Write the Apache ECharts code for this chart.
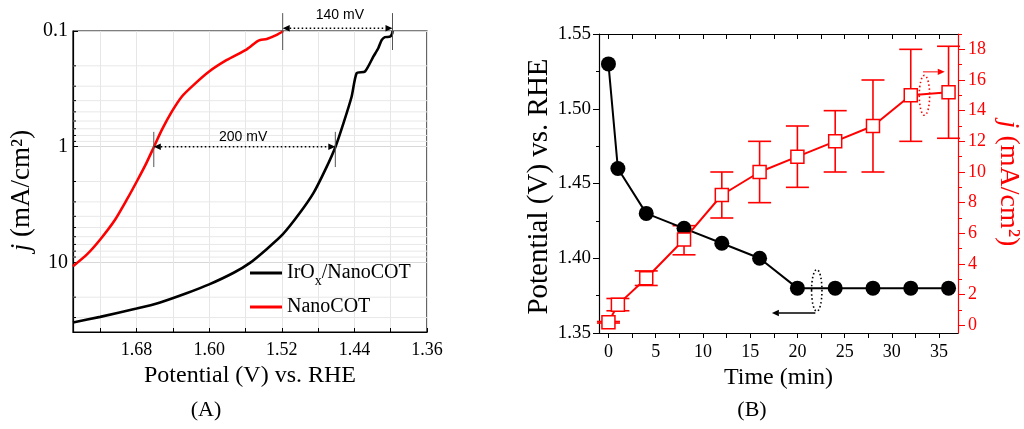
<!DOCTYPE html>
<html><head><meta charset="utf-8">
<script src="https://cdn.jsdelivr.net/npm/echarts@6/dist/echarts.min.js"></script>
<style>html,body{margin:0;padding:0;background:#fff}#c{width:1024px;height:429px}</style>
</head><body><div id="c"></div>
<script>
// ---------- Panel (A): polarization curves ----------
const irV = [1.750,1.720,1.680,1.654,1.625,1.600,1.573,1.555,1.537,1.519,1.500,1.485,1.472,1.461,1.452,1.443,1.4375,1.4283,1.419,1.4137,1.410,1.4064,1.4008,1.3983,1.398];
const irJ = [33.1,29.6,25.1,22.2,18.5,15.5,12.3,10.1,7.73,5.74,3.73,2.51,1.58,1.01,0.625,0.368,0.231,0.224,0.166,0.141,0.120,0.113,0.112,0.105,0.100];
const ncV = [1.750,1.7346,1.720,1.7035,1.6906,1.6796,1.670,1.661,1.652,1.641,1.630,1.617,1.600,1.5805,1.5585,1.5475,1.5437,1.5365,1.5255,1.5183];
const ncJ = [10.8,8.53,6.34,4.26,2.86,1.99,1.43,1.01,0.713,0.496,0.368,0.292,0.224,0.178,0.144,0.1236,0.1197,0.117,0.108,0.100];
const xLabelsA = [1.68,1.60,1.52,1.44,1.36];
const xTicksA = [1.72,1.68,1.64,1.60,1.56,1.52,1.48,1.44,1.40,1.36];
const yLabelsA = [0.1,1,10];
const yMinorA = [0.2,0.3,0.4,0.5,0.6,0.7,0.8,0.9,2,3,4,5,6,7,8,9,20,30];

// ---------- Panel (B): stability ----------
const timeMin = [0,1,4,8,12,16,20,24,28,32,36];
const potential = [1.53,1.46,1.43,1.42,1.41,1.40,1.38,1.38,1.38,1.38,1.38];
const jB = [0.2,1.35,3.07,5.6,8.5,10.0,11.0,12.0,13.0,15.0,15.2];
const jLow = [0.15,0.95,2.6,4.6,7.0,8.0,9.0,10.0,10.0,12.0,12.2];
const jHigh = [0.25,1.75,3.55,6.5,10.0,12.0,13.0,14.0,16.0,18.0,18.2];
const tLabels = [0,5,10,15,20,25,30,35];
const tTicks = [0,2.5,5,7.5,10,12.5,15,17.5,20,22.5,25,27.5,30,32.5,35];
const jLabels = [0,2,4,6,8,10,12,14,16,18];
const jMinor = [1,3,5,7,9,11,13,15,17,19];

const SERIF = 'Liberation Serif';
const RED = '#ff0000';

function arrow(api, p1, p2, color, lw, dash, heads) {
  const a = api.coord(p1), b = api.coord(p2);
  const dx = b[0]-a[0], dy = b[1]-a[1], len = Math.hypot(dx,dy) || 1;
  const ux = dx/len, uy = dy/len, L = 7, H = 3.2;
  const out = [];
  const s = heads.start ? L : 0, e = heads.end ? L : 0;
  out.push({type:'line', shape:{x1:a[0]+ux*s, y1:a[1]+uy*s, x2:b[0]-ux*e, y2:b[1]-uy*e},
    style:{stroke:color, lineWidth:lw, lineDash:dash}});
  const head = (t, dir) => ({type:'polygon', shape:{points:[
    [t[0],t[1]], [t[0]+dir*ux*L - uy*H, t[1]+dir*uy*L + ux*H], [t[0]+dir*ux*L + uy*H, t[1]+dir*uy*L - ux*H]]},
    style:{fill:color}});
  if (heads.start) out.push(head(a, 1));
  if (heads.end) out.push(head(b, -1));
  return out;
}
function vline(api, x, y1, y2, color) {
  const a = api.coord([x,y1]), b = api.coord([x,y2]);
  return {type:'line', shape:{x1:a[0],y1:a[1],x2:b[0],y2:b[1]}, style:{stroke:color, lineWidth:1}};
}
function ellipse(api, x1, x2, y1, y2, color) {
  const a = api.coord([x1,y1]), b = api.coord([x2,y2]);
  return {type:'ellipse', shape:{cx:(a[0]+b[0])/2, cy:(a[1]+b[1])/2, rx:Math.abs(b[0]-a[0])/2, ry:Math.abs(b[1]-a[1])/2},
    style:{stroke:color, fill:'none', lineWidth:1.6, lineDash:[1.5,2.5]}};
}

const chart = echarts.init(document.getElementById('c'), null, {renderer:'canvas'});
chart.setOption({
  animation:false,
  backgroundColor:'#fff',
  grid:[
    {left:73, top:31, width:354, height:301, show:true, borderColor:'#000', borderWidth:1.2, backgroundColor:'transparent'},
    {left:599, top:34, width:359, height:299}
  ],
  legend:{
    data:['IrOx/NanoCOT','NanoCOT'], orient:'vertical', left:250, top:258, padding:0,
    itemWidth:32, itemHeight:3, icon:'rect', itemGap:8,
    formatter: n => n === 'IrOx/NanoCOT' ? 'IrO{sub|x}/NanoCOT' : n,
    textStyle:{fontFamily:SERIF, fontSize:20, color:'#000', lineHeight:22,
      rich:{sub:{fontFamily:SERIF, fontSize:14, color:'#000', lineHeight:30, verticalAlign:'bottom'}}}
  },
  xAxis:[
    {gridIndex:0, type:'value', min:1.36, max:1.75, inverse:true, position:'bottom',
     axisLine:{onZero:false, lineStyle:{color:'#000', width:1.2}},
     axisTick:{inside:true, length:4, customValues:xTicksA, lineStyle:{color:'#000'}},
     axisLabel:{customValues:xLabelsA, formatter:v=>(+v).toFixed(2), margin:9, fontFamily:SERIF, fontSize:18, color:'#000'},
     splitLine:{show:true, lineStyle:{color:'#e6e6e6', width:1}},
     name:'Potential (V) vs. RHE', nameLocation:'middle', nameGap:27,
     nameTextStyle:{fontFamily:SERIF, fontSize:24, color:'#000'}},
    {gridIndex:1, type:'value', min:-1, max:37, position:'bottom',
     axisLine:{onZero:false, lineStyle:{color:'#000', width:1.2}},
     axisTick:{inside:false, length:5, customValues:tTicks, lineStyle:{color:'#000'}},
     axisLabel:{customValues:tLabels, margin:10, fontFamily:SERIF, fontSize:18, color:'#000'},
     splitLine:{show:false},
     name:'Time (min)', nameLocation:'middle', nameGap:28,
     nameTextStyle:{fontFamily:SERIF, fontSize:24, color:'#000'}},
    {gridIndex:1, type:'value', min:-1, max:37, position:'top',
     axisLine:{onZero:false, lineStyle:{color:'#000', width:1.2}},
     axisTick:{inside:true, length:5, customValues:tTicks, lineStyle:{color:'#000'}},
     axisLabel:{show:false}, splitLine:{show:false}}
  ],
  yAxis:[
    {gridIndex:0, type:'log', logBase:10, min:0.1, max:40, inverse:true, position:'left',
     axisLine:{onZero:false, lineStyle:{color:'#000', width:1.2}},
     axisTick:{inside:true, length:5, lineStyle:{color:'#000'}},
     axisLabel:{margin:5, fontFamily:SERIF, fontSize:20, color:'#000',
       formatter:v=>yLabelsA.some(t=>Math.abs(t-v)/t<1e-6) ? String(+(+v).toPrecision(3)) : ''},
     splitLine:{show:true, lineStyle:{color:'#d8d8d8', width:1}},
     name:'{i|j} (mA/cm²)', nameLocation:'middle', nameGap:38, nameRotate:90,
     nameTextStyle:{fontFamily:SERIF, fontSize:27, color:'#000', padding:[0,18,0,0],
       rich:{i:{fontFamily:SERIF, fontSize:27, fontStyle:'italic', color:'#000'}}}},
    {gridIndex:1, type:'value', min:1.35, max:1.55, interval:0.05, position:'left',
     axisLine:{onZero:false, lineStyle:{color:'#000', width:1.2}},
     axisTick:{inside:false, length:6, lineStyle:{color:'#000'}},
     minorTick:{show:true, splitNumber:2, length:3, lineStyle:{color:'#000'}},
     axisLabel:{formatter:v=>(+v).toFixed(2), margin:8, fontFamily:SERIF, fontSize:19, color:'#000'},
     splitLine:{show:false},
     name:'Potential (V) vs. RHE', nameLocation:'middle', nameGap:44, nameRotate:90,
     nameTextStyle:{fontFamily:SERIF, fontSize:29, color:'#000', padding:[0,6,0,0]}},
    {gridIndex:1, type:'value', min:-0.5, max:19, position:'right',
     axisLine:{onZero:false, lineStyle:{color:RED, width:1.2}},
     axisTick:{inside:false, length:7, customValues:jLabels, lineStyle:{color:RED}},
     axisLabel:{customValues:jLabels, margin:10, fontFamily:SERIF, fontSize:18, color:RED},
     splitLine:{show:false},
     name:'{i|j} (mA/cm²)', nameLocation:'middle', nameGap:36, nameRotate:-90,
     nameTextStyle:{fontFamily:SERIF, fontSize:28, color:RED,
       rich:{i:{fontFamily:SERIF, fontSize:28, fontStyle:'italic', color:RED}}}},
    {gridIndex:1, type:'value', min:-0.5, max:19, position:'right',
     axisLine:{show:false, onZero:false},
     axisTick:{inside:false, length:4, customValues:jMinor, lineStyle:{color:RED}},
     axisLabel:{show:false}, splitLine:{show:false}}
  ],
  graphic:[
    {type:'text', x:206, y:410, style:{text:'(A)', align:'center', verticalAlign:'middle', fontFamily:SERIF, fontSize:22, fill:'#000'}},
    {type:'text', x:752, y:410, style:{text:'(B)', align:'center', verticalAlign:'middle', fontFamily:SERIF, fontSize:22, fill:'#000'}}
  ],
  series:[
    // minor log grid lines + ticks for panel A
    {type:'custom', xAxisIndex:0, yAxisIndex:0, silent:true, clip:false, data:[[1.5,1]],
     renderItem:(p, api) => {
       const ch = [];
       yMinorA.forEach(v => {
         const a = api.coord([1.75, v]), b = api.coord([1.36, v]);
         ch.push({type:'line', shape:{x1:a[0], y1:a[1], x2:b[0], y2:b[1]}, style:{stroke:'#e8e8e8', lineWidth:1}});
         ch.push({type:'line', shape:{x1:a[0], y1:a[1], x2:a[0]+3, y2:a[1]}, style:{stroke:'#000', lineWidth:1}});
       });
       return {type:'group', children:ch};
     }},
    {name:'IrOx/NanoCOT', type:'line', xAxisIndex:0, yAxisIndex:0, showSymbol:false, symbol:'none', smooth:0.2,
     data:irV.map((v,i)=>[v, irJ[i]]), lineStyle:{color:'#000', width:2.6}, itemStyle:{color:'#000'}, z:3},
    {name:'NanoCOT', type:'line', xAxisIndex:0, yAxisIndex:0, showSymbol:false, symbol:'none', smooth:0.2,
     data:ncV.map((v,i)=>[v, ncJ[i]]), lineStyle:{color:RED, width:2.6}, itemStyle:{color:RED}, z:3},
    // annotations panel A
    {type:'custom', xAxisIndex:0, yAxisIndex:0, silent:true, clip:false, data:[[1.5,1]], z:4,
     renderItem:(p, api) => {
       const ch = [];
       ch.push(vline(api, 1.661, 0.745, 1.5, '#555'));
       ch.push(vline(api, 1.461, 0.745, 1.5, '#555'));
       ch.push(...arrow(api, [1.661, 1], [1.461, 1], '#000', 1.6, [1.5,2.5], {start:true, end:true}));
       const t1 = api.coord([1.5626, 0.83]);
       ch.push({type:'text', x:t1[0], y:t1[1], style:{text:'200 mV', align:'center', verticalAlign:'middle', fontFamily:'Liberation Sans', fontSize:14, fill:'#000'}});
       ch.push(vline(api, 1.519, 0.070, 0.146, '#555'));
       ch.push(vline(api, 1.398, 0.070, 0.146, '#555'));
       ch.push(...arrow(api, [1.519, 0.0948], [1.398, 0.0948], '#000', 1.6, [1.5,2.5], {start:true, end:true}));
       const t2 = api.coord([1.456, 0.0727]);
       ch.push({type:'text', x:t2[0], y:t2[1], style:{text:'140 mV', align:'center', verticalAlign:'middle', fontFamily:'Liberation Sans', fontSize:14, fill:'#000'}});
       return {type:'group', children:ch};
     }},
    // panel B
    {name:'Potential', type:'line', xAxisIndex:1, yAxisIndex:1, symbol:'circle', symbolSize:15,
     data:timeMin.map((t,i)=>[t, potential[i]]), lineStyle:{color:'#000', width:2}, itemStyle:{color:'#000'}},
    {type:'custom', xAxisIndex:1, yAxisIndex:2, silent:true, clip:false,
     encode:{x:0, y:[1,2]},
     data:timeMin.map((t,i)=>[t, jLow[i], jHigh[i]]),
     renderItem:(p, api) => {
       const lo = api.coord([api.value(0), api.value(1)]), hi = api.coord([api.value(0), api.value(2)]);
       const w = 11.5, st = {stroke:RED, lineWidth:1.6};
       return {type:'group', children:[
         {type:'line', shape:{x1:lo[0], y1:lo[1], x2:hi[0], y2:hi[1]}, style:st},
         {type:'line', shape:{x1:lo[0]-w, y1:lo[1], x2:lo[0]+w, y2:lo[1]}, style:st},
         {type:'line', shape:{x1:hi[0]-w, y1:hi[1], x2:hi[0]+w, y2:hi[1]}, style:st}
       ]};
     }},
    {name:'j', type:'line', xAxisIndex:1, yAxisIndex:2, symbol:'rect', symbolSize:13,
     data:timeMin.map((t,i)=>[t, jB[i]]), lineStyle:{color:RED, width:2},
     itemStyle:{color:'#fff', borderColor:RED, borderWidth:1.5}},
    {type:'custom', xAxisIndex:1, yAxisIndex:1, silent:true, clip:false, data:[[20,1.4]],
     renderItem:(p, api) => ({type:'group', children:[
       ellipse(api, 21.5, 22.6, 1.3645, 1.3924, '#000'),
       ...arrow(api, [21.9, 1.3634], [17.3, 1.3634], '#000', 1.4, null, {start:false, end:true})
     ]})},
    {type:'custom', xAxisIndex:1, yAxisIndex:2, silent:true, clip:false, data:[[20,10]],
     renderItem:(p, api) => ({type:'group', children:[
       ellipse(api, 32.9, 34.0, 13.7, 16.3, RED),
       ...arrow(api, [33.3, 16.53], [35.6, 16.53], RED, 1, null, {start:false, end:true})
     ]})}
  ]
});
</script></body></html>
